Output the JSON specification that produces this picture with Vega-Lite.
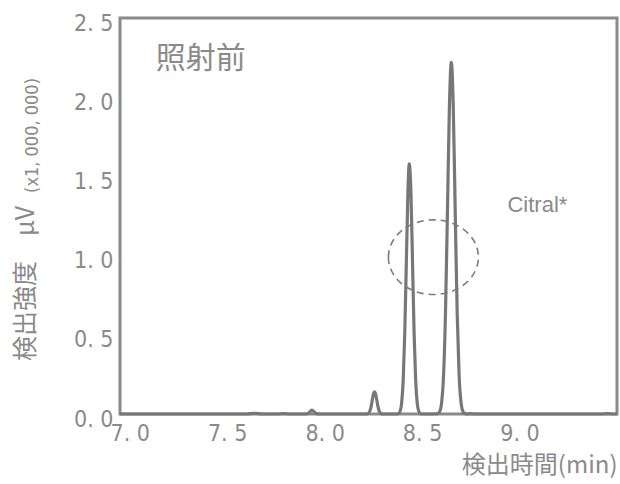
{
  "$schema": "https://vega.github.io/schema/vega-lite/v6.json",
  "width": 497,
  "height": 396,
  "autosize": {"type": "none"},
  "padding": {"left": 120, "top": 18, "right": 3, "bottom": 70},
  "background": "white",
  "config": {
    "view": {"stroke": "#8a8a8a", "strokeWidth": 3},
    "axis": {"grid": false, "domain": false, "ticks": false, "labelFont": "DejaVu Sans Condensed, Roboto", "labelFontSize": 23, "labelFontWeight": 300, "labelColor": "#8a8a8a", "titleColor": "#8a8a8a", "titleFontWeight": "normal", "labelFlush": false}
  },
  "layer": [
    {
      "data": {"values": [
        {"t": 6.95, "v": 0}, {"t": 7.2, "v": 0}, {"t": 7.5, "v": 0}, {"t": 7.6, "v": 0},
        {"t": 7.64, "v": 0.004}, {"t": 7.68, "v": 0}, {"t": 7.76, "v": 0}, {"t": 7.79, "v": 0.003}, {"t": 7.82, "v": 0},
        {"t": 7.895, "v": 0}, {"t": 7.905, "v": 0.001}, {"t": 7.915, "v": 0.0034}, {"t": 7.925, "v": 0.015},
        {"t": 7.935, "v": 0.025}, {"t": 7.945, "v": 0.015}, {"t": 7.955, "v": 0.0034}, {"t": 7.965, "v": 0.001}, {"t": 7.975, "v": 0},
        {"t": 8.2, "v": 0}, {"t": 8.214, "v": 0}, {"t": 8.22, "v": 0.002}, {"t": 8.226, "v": 0.006}, {"t": 8.232, "v": 0.019},
        {"t": 8.238, "v": 0.045}, {"t": 8.244, "v": 0.085}, {"t": 8.25, "v": 0.124}, {"t": 8.256, "v": 0.14},
        {"t": 8.262, "v": 0.124}, {"t": 8.268, "v": 0.085}, {"t": 8.274, "v": 0.045}, {"t": 8.28, "v": 0.019},
        {"t": 8.286, "v": 0.006}, {"t": 8.292, "v": 0.002}, {"t": 8.298, "v": 0},
        {"t": 8.365, "v": 0}, {"t": 8.371, "v": 0}, {"t": 8.379, "v": 0.003}, {"t": 8.387, "v": 0.017}, {"t": 8.395, "v": 0.069},
        {"t": 8.403, "v": 0.212}, {"t": 8.411, "v": 0.51}, {"t": 8.419, "v": 0.952}, {"t": 8.427, "v": 1.386},
        {"t": 8.434, "v": 1.58}, {"t": 8.443, "v": 1.386}, {"t": 8.451, "v": 0.952}, {"t": 8.459, "v": 0.51},
        {"t": 8.467, "v": 0.212}, {"t": 8.475, "v": 0.069}, {"t": 8.483, "v": 0.017}, {"t": 8.491, "v": 0.003}, {"t": 8.499, "v": 0},
        {"t": 8.565, "v": 0}, {"t": 8.57, "v": 0}, {"t": 8.58, "v": 0.003}, {"t": 8.59, "v": 0.015}, {"t": 8.6, "v": 0.07},
        {"t": 8.61, "v": 0.242}, {"t": 8.62, "v": 0.638}, {"t": 8.63, "v": 1.276}, {"t": 8.64, "v": 1.933},
        {"t": 8.65, "v": 2.22}, {"t": 8.66, "v": 1.933}, {"t": 8.67, "v": 1.276}, {"t": 8.68, "v": 0.638},
        {"t": 8.69, "v": 0.242}, {"t": 8.7, "v": 0.07}, {"t": 8.71, "v": 0.015}, {"t": 8.72, "v": 0.003}, {"t": 8.73, "v": 0},
        {"t": 8.75, "v": 0.002}, {"t": 8.77, "v": 0}, {"t": 9.0, "v": 0}, {"t": 9.42, "v": 0}, {"t": 9.45, "v": 0.003},
        {"t": 9.48, "v": 0}, {"t": 9.5, "v": 0}
      ]},
      "mark": {"type": "line", "color": "#777777", "strokeWidth": 3.2, "interpolate": "monotone"},
      "encoding": {
        "x": {"field": "t", "type": "quantitative",
          "scale": {"domain": [6.95, 9.5], "nice": false, "zero": false},
          "axis": {"values": [7, 7.5, 8, 8.5, 9], "labelExpr": "replace(format(datum.value, '.1f'), '.', '. ')", "labelPadding": 8,
            "title": "検出時間(min)", "titleFont": "Noto Sans CJK JP", "titleFontSize": 24,
            "titleAnchor": "end", "titleAlign": "right", "titlePadding": 8}},
        "y": {"field": "v", "type": "quantitative",
          "scale": {"domain": [0, 2.5], "nice": false},
          "axis": {"values": [0, 0.5, 1, 1.5, 2, 2.5], "labelExpr": "replace(format(datum.value, '.1f'), '.', '. ')", "labelPadding": 7, "labelOffset": 5,
            "title": "検出強度　μV", "titleFont": "Noto Sans CJK JP", "titleFontSize": 25,
            "titleX": -95, "titleY": 265, "titleAlign": "center", "titleBaseline": "middle", "titleAngle": -90}}
      }
    },
    {
      "data": {"values": [{"t": 8.558, "v": 0.99}]},
      "mark": {"type": "point", "shape": "M -1 0 A 1 0.83 0 1 1 1 0 A 1 0.83 0 1 1 -1 0 Z", "size": 8100,
        "filled": false, "stroke": "#7a7a7a", "strokeWidth": 1.6, "strokeDash": [7, 5], "opacity": 1},
      "encoding": {
        "x": {"field": "t", "type": "quantitative"},
        "y": {"field": "v", "type": "quantitative",
          "axis": {"orient": "left", "labels": false, "ticks": false, "domain": false,
            "title": "(x1, 000, 000)", "titleFont": "DejaVu Sans Condensed, Roboto", "titleFontSize": 18, "titleFontWeight": 300,
            "titleX": -88, "titleY": 117, "titleAlign": "center", "titleBaseline": "middle", "titleAngle": -90}}
      }
    },
    {
      "data": {"values": [{"t": 7.134, "v": 2.24, "label": "照射前"}]},
      "mark": {"type": "text", "align": "left", "baseline": "middle", "font": "Noto Sans CJK JP", "fontSize": 30, "color": "#8a8a8a"},
      "encoding": {
        "x": {"field": "t", "type": "quantitative"},
        "y": {"field": "v", "type": "quantitative", "axis": null},
        "text": {"field": "label"}
      }
    },
    {
      "data": {"values": [{"t": 8.938, "v": 1.32, "label": "Citral*"}]},
      "mark": {"type": "text", "align": "left", "baseline": "middle", "font": "Liberation Sans", "fontSize": 22, "color": "#8a8a8a"},
      "encoding": {
        "x": {"field": "t", "type": "quantitative"},
        "y": {"field": "v", "type": "quantitative", "axis": null},
        "text": {"field": "label"}
      }
    }
  ],
  "resolve": {"axis": {"y": "independent"}}
}
